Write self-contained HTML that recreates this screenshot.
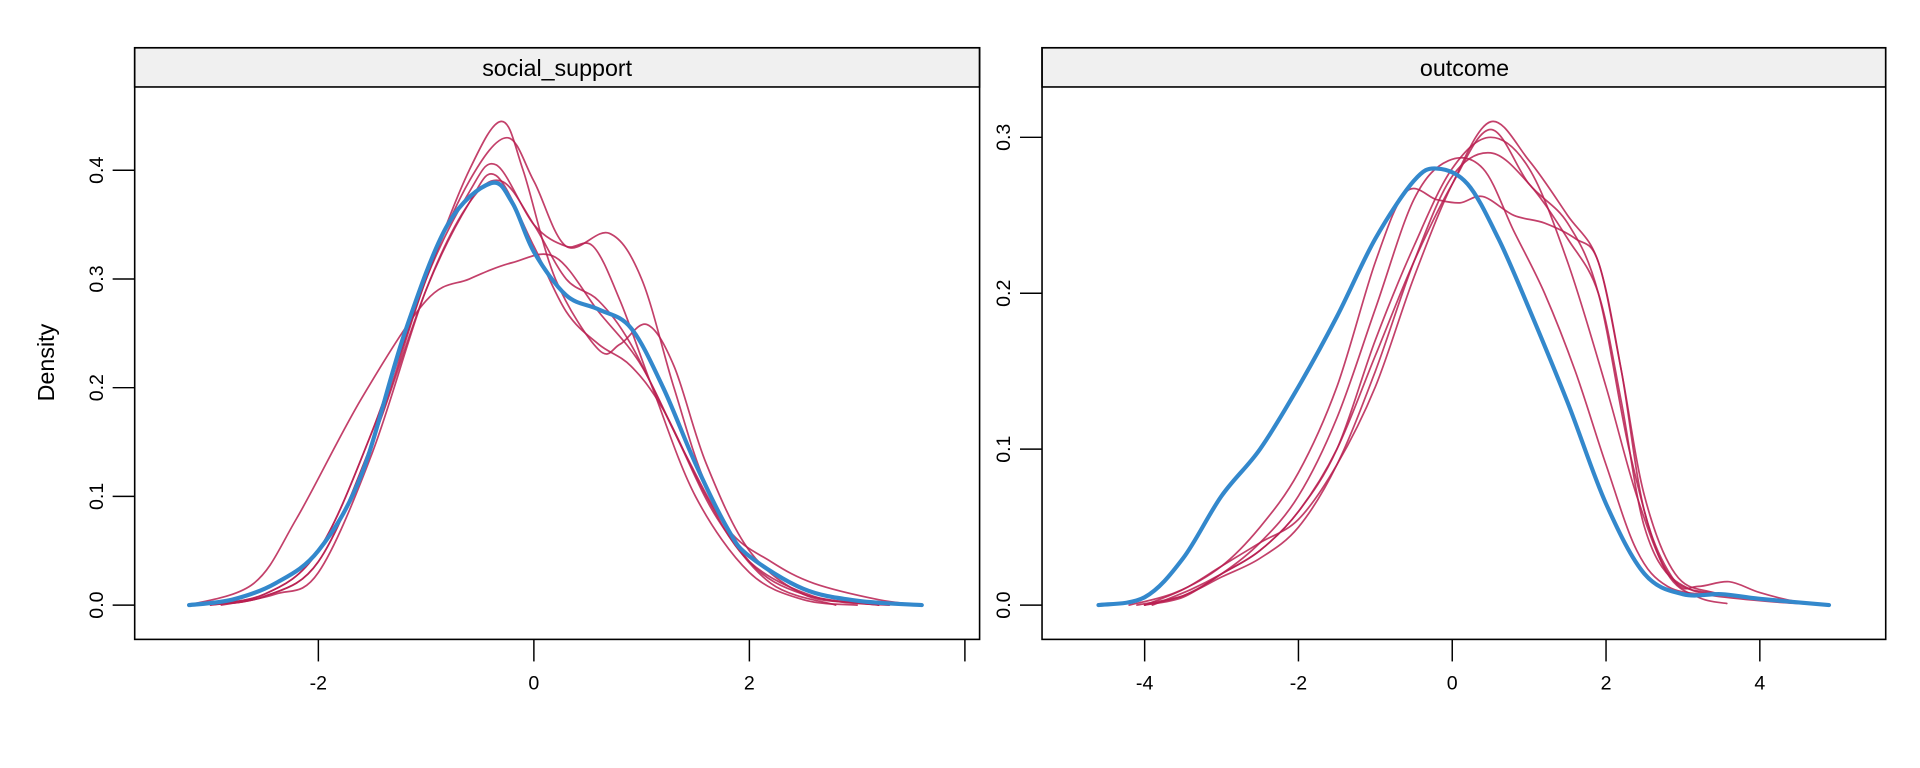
<!DOCTYPE html>
<html><head><meta charset="utf-8"><style>html,body{margin:0;padding:0;background:#fff}svg{display:block}text{font-family:"Liberation Sans",Arial,sans-serif;fill:#000}</style></head>
<body>
<svg id="s" width="1920" height="768" viewBox="0 0 1568 627" preserveAspectRatio="none" xmlns="http://www.w3.org/2000/svg">
<rect x="110" y="39" width="690" height="32" fill="#f0f0f0" stroke="#000" stroke-width="1.3"/>
<rect x="110" y="39" width="690" height="483" fill="none" stroke="#000" stroke-width="1.3"/>
<rect x="851" y="39" width="689" height="32" fill="#f0f0f0" stroke="#000" stroke-width="1.3"/>
<rect x="851" y="39" width="689" height="483" fill="none" stroke="#000" stroke-width="1.3"/>
<text x="455" y="62" font-size="19" text-anchor="middle">social_support</text>
<text x="1196" y="62" font-size="19" text-anchor="middle">outcome</text>
<text transform="translate(44,296) rotate(-90)" font-size="19" text-anchor="middle">Density</text>
<g id="ax" stroke="#000" stroke-width="1.2"></g>
<g id="lab" font-size="16"></g>
<g id="cur" fill="none" stroke-linecap="round"></g>
</svg>
<script>
var ax=document.getElementById('ax'),lab=document.getElementById('lab'),cur=document.getElementById('cur');
var h='',l='';
var L={x0:436,sx:88,y0:494,sy:887.5},R={x0:1186,sx:62.8,y0:494,sy:1273};
[-2,0,2,4].forEach(function(v){var x=L.x0+v*L.sx;h+='<line x1="'+x+'" y1="522" x2="'+x+'" y2="540"/>';if(v<4)l+='<text x="'+x+'" y="563" text-anchor="middle">'+v+'</text>';});
[0,0.1,0.2,0.3,0.4].forEach(function(v){var y=L.y0-v*L.sy;h+='<line x1="110" y1="'+y+'" x2="92" y2="'+y+'"/>';l+='<text transform="translate(84,'+y+') rotate(-90)" text-anchor="middle">'+v.toFixed(1)+'</text>';});
[-4,-2,0,2,4].forEach(function(v){var x=R.x0+v*R.sx;h+='<line x1="'+x+'" y1="522" x2="'+x+'" y2="540"/>';l+='<text x="'+x+'" y="563" text-anchor="middle">'+v+'</text>';});
[0,0.1,0.2,0.3].forEach(function(v){var y=R.y0-v*R.sy;h+='<line x1="851" y1="'+y+'" x2="833" y2="'+y+'"/>';l+='<text transform="translate(825,'+y+') rotate(-90)" text-anchor="middle">'+v.toFixed(1)+'</text>';});
ax.innerHTML=h;lab.innerHTML=l;
function path(P,pts,col,w){
 var p=pts.map(function(q){return [P.x0+q[0]*P.sx,P.y0-q[1]*P.sy];});
 var d='M'+p[0][0].toFixed(1)+','+p[0][1].toFixed(1);
 for(var i=0;i<p.length-1;i++){
  var p0=p[Math.max(i-1,0)],p1=p[i],p2=p[i+1],p3=p[Math.min(i+2,p.length-1)];
  var c1=[p1[0]+(p2[0]-p0[0])/6,p1[1]+(p2[1]-p0[1])/6],c2=[p2[0]-(p3[0]-p1[0])/6,p2[1]-(p3[1]-p1[1])/6];
  d+='C'+c1[0].toFixed(1)+','+c1[1].toFixed(1)+' '+c2[0].toFixed(1)+','+c2[1].toFixed(1)+' '+p2[0].toFixed(1)+','+p2[1].toFixed(1);
 }
 return '<path d="'+d+'" stroke="'+col+'" stroke-width="'+w+'"/>';
}
var red='rgba(184,30,80,0.85)',c='';
var lr=[
[[-3.1,0],[-2.5,0.01],[-2,0.05],[-1.5,0.16],[-1,0.3],[-0.6,0.4],[-0.3,0.445],[-0.1,0.4],[0.2,0.3],[0.6,0.235],[0.8,0.24],[1.05,0.258],[1.3,0.22],[1.6,0.13],[2,0.05],[2.5,0.01],[3,0.002],[3.3,0]],
[[-3,0],[-2.5,0.008],[-2,0.04],[-1.5,0.15],[-1,0.3],[-0.6,0.39],[-0.25,0.43],[0,0.39],[0.3,0.33],[0.7,0.342],[1.0,0.3],[1.3,0.2],[1.6,0.11],[2,0.04],[2.5,0.01],[3.2,0]],
[[-3.1,0],[-2.5,0.01],[-2,0.05],[-1.5,0.16],[-1,0.3],[-0.6,0.38],[-0.35,0.405],[0,0.35],[0.3,0.33],[0.55,0.33],[0.8,0.28],[1.1,0.2],[1.5,0.1],[2,0.03],[2.5,0.005],[3,0]],
[[-3.2,0],[-2.6,0.02],[-2.2,0.08],[-1.6,0.19],[-1.0,0.28],[-0.6,0.3],[-0.2,0.315],[0.2,0.32],[0.6,0.27],[1.0,0.22],[1.4,0.14],[1.8,0.07],[2.2,0.04],[2.6,0.02],[3.2,0.005],[3.6,0]],
[[-3,0],[-2.5,0.008],[-2,0.04],[-1.5,0.15],[-1,0.29],[-0.6,0.37],[-0.35,0.395],[0,0.33],[0.3,0.27],[0.6,0.24],[0.9,0.22],[1.2,0.18],[1.6,0.1],[2,0.04],[2.6,0.008],[3.2,0]],
[[-2.9,0],[-2.4,0.01],[-2,0.03],[-1.5,0.14],[-1,0.29],[-0.6,0.37],[-0.3,0.39],[0,0.35],[0.3,0.3],[0.6,0.28],[0.9,0.24],[1.3,0.16],[1.7,0.08],[2.2,0.02],[2.8,0]]
];
lr.forEach(function(m){c+=path(L,m,red,1.4);});
c+=path(L,[[-3.2,0],[-2.8,0.005],[-2.4,0.02],[-2,0.05],[-1.6,0.12],[-1.2,0.25],[-0.8,0.35],[-0.4,0.388],[-0.2,0.37],[0,0.325],[0.3,0.285],[0.6,0.272],[0.9,0.255],[1.2,0.2],[1.5,0.13],[1.8,0.07],[2.0,0.045],[2.5,0.015],[3,0.004],[3.6,0]],'#3388cc',3.4);
var rr=[
[[-4,0],[-3.5,0.01],[-3,0.025],[-2.5,0.04],[-2,0.055],[-1.5,0.09],[-1,0.14],[-0.5,0.21],[0,0.27],[0.5,0.31],[1,0.285],[1.5,0.25],[1.9,0.22],[2.2,0.15],[2.5,0.06],[2.9,0.015],[3.2,0.012],[3.6,0.015],[4,0.008],[4.5,0.002],[4.9,0]],
[[-3.9,0],[-3.4,0.01],[-3,0.02],[-2.5,0.035],[-2,0.06],[-1.5,0.1],[-1,0.17],[-0.5,0.23],[0,0.28],[0.5,0.3],[1,0.28],[1.5,0.22],[2,0.14],[2.4,0.07],[2.8,0.02],[3.2,0.005],[3.57,0.001]],
[[-4,0],[-3.5,0.005],[-3,0.02],[-2.5,0.035],[-2,0.06],[-1.5,0.1],[-1,0.16],[-0.5,0.22],[0,0.27],[0.5,0.305],[1,0.27],[1.5,0.245],[1.9,0.2],[2.3,0.1],[2.7,0.03],[3.1,0.01],[3.6,0.007],[4.2,0.003],[4.9,0]],
[[-4.2,0],[-3.6,0.008],[-3,0.025],[-2.5,0.05],[-2,0.085],[-1.5,0.14],[-1,0.22],[-0.6,0.265],[-0.2,0.26],[0.1,0.258],[0.4,0.262],[0.8,0.25],[1.2,0.245],[1.6,0.235],[1.9,0.22],[2.2,0.15],[2.5,0.07],[2.9,0.02],[3.4,0.008],[4.2,0.003],[4.9,0]],
[[-4,0],[-3.5,0.006],[-3,0.02],[-2.5,0.04],[-2,0.07],[-1.5,0.12],[-1,0.19],[-0.5,0.26],[-0.05,0.285],[0.4,0.28],[0.8,0.24],[1.2,0.2],[1.6,0.15],[2,0.09],[2.4,0.035],[2.8,0.012],[3.4,0.006],[4.2,0.002],[4.9,0]],
[[-4.1,0],[-3.5,0.006],[-3,0.018],[-2.5,0.03],[-2,0.05],[-1.5,0.09],[-1,0.15],[-0.5,0.22],[0,0.275],[0.5,0.29],[1,0.27],[1.5,0.235],[1.9,0.2],[2.2,0.13],[2.5,0.05],[2.9,0.015],[3.5,0.007],[4.2,0.003],[4.9,0]]
];
rr.forEach(function(m){c+=path(R,m,red,1.4);});
c+=path(R,[[-4.6,0],[-4,0.005],[-3.5,0.03],[-3,0.07],[-2.5,0.1],[-2,0.14],[-1.5,0.185],[-1,0.235],[-0.5,0.272],[-0.2,0.28],[0.2,0.27],[0.6,0.235],[1,0.19],[1.5,0.13],[2,0.065],[2.5,0.02],[3,0.007],[3.5,0.007],[4,0.004],[4.9,0]],'#3388cc',3.4);
cur.innerHTML=c;
</script>
</body></html>
